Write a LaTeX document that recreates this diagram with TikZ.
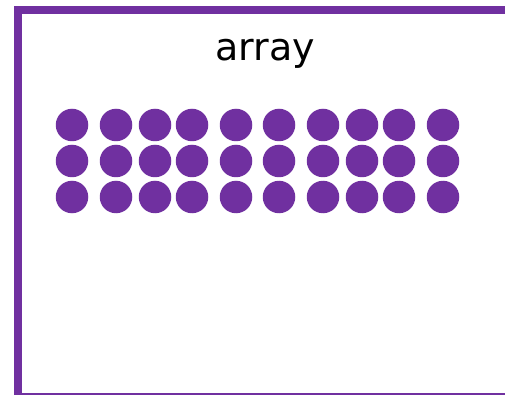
\documentclass[tikz,border=0pt]{standalone}
\usepackage{fontspec}
\setmainfont{DejaVu Sans}
\definecolor{arraypurple}{RGB}{112,48,160}
\begin{document}
\begin{tikzpicture}[x=1pt,y=-1pt,
  dotstyle/.style={circle,fill=arraypurple,minimum size=32.5pt,inner sep=0pt},
  barstyle/.style={fill=arraypurple,draw=none}]
\useasboundingbox (0,0) rectangle (505,395);
\fill[white] (0,0) rectangle (505,395);
% frame
\path[barstyle] (14,6) rectangle (505,14);
\path[barstyle] (14,6) rectangle (22,395);
\path[barstyle] (14,393.3) rectangle (505,395);
% title
\node[font=\fontsize{38}{40}\selectfont,anchor=base] (title) at (265,61) {array};
% dots
\foreach \x [count=\i] in {72,116,155,192,236,279,323,362,399,443}{
  \foreach \y [count=\j] in {125,161,197}{
    \node[dotstyle] (d\j-\i) at (\x,\y) {};
  }
}
\end{tikzpicture}
\end{document}
